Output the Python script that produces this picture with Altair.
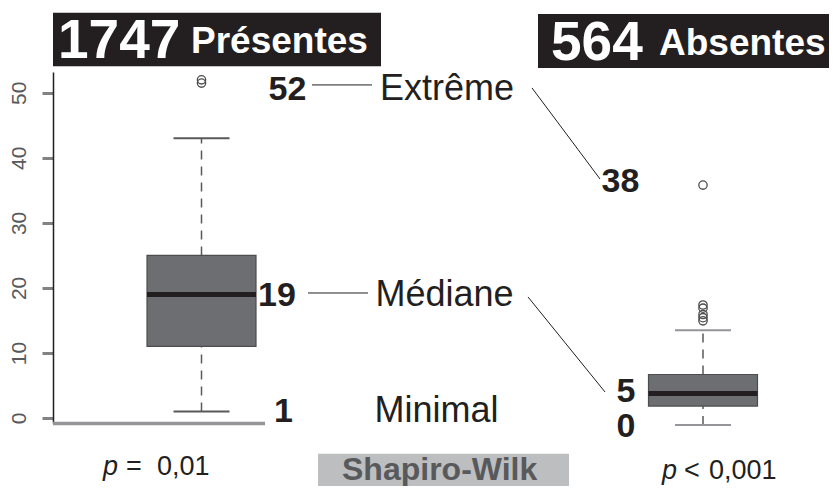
import altair as alt
import pandas as pd

# ---------------- data ----------------
groups = ["Présentes", "Absentes"]
counts = ["1747", "564"]
whisker_low = [1, 0]
q1 = [11, 3]
median = [19, 5]
q3 = [25, 8]
whisker_high = [43, 15]
outliers_presentes = [52, 51.5]
outliers_absentes = [16.5, 17, 17.5, 18.5, 19, 38]
p_symbol = ["p", "p"]
p_relation = ["=", "<"]
p_value = ["0,01", "0,001"]
y_ticks = [0, 10, 20, 30, 40, 50]
summary_words = ["Extrême", "Médiane", "Minimal"]
left_values = ["52", "19", "1"]
right_values = ["38", "5", "0"]
test_name = ["Shapiro-Wilk"]

# ---------------- layout ----------------
FONT = "Liberation Sans"
DARK = "#231f20"
W, H = 776, 351
x_scale = alt.Scale(domain=[53, 829], nice=False, zero=False)
left_scale = alt.Scale(domain=[-0.77, 53.2], nice=False, zero=False)
right_scale = alt.Scale(domain=[0.32, 55.9], nice=False, zero=False)
scales = [left_scale, right_scale]

centers = [201.5, 703]
box_half = 54.5
cap_half = 28

y_axis = alt.Axis(values=y_ticks, labelAngle=270, labelAlign="center", labelBaseline="alphabetic",
                  labelPadding=17, tickSize=11, tickWidth=3, tickColor="#808285",
                  domainColor=DARK, domainWidth=1.5, labelFontSize=21, labelColor="#58595b",
                  labelFont=FONT, grid=False, title=None, labelFlush=False)


def X(f):
    return alt.X(f + ":Q", scale=x_scale, axis=None)


def Y(f, sc=left_scale, axis=None):
    return alt.Y(f + ":Q", scale=sc, axis=axis)


layers = []
cap_colors = ["#58595b", "#939598"]
for i in range(2):
    sc = scales[i]
    row = pd.DataFrame({
        "group": [groups[i]],
        "xc": [centers[i]], "xl": [centers[i] - box_half], "xr": [centers[i] + box_half],
        "cl": [centers[i] - cap_half], "cr": [centers[i] + cap_half],
        "wlo": [whisker_low[i]], "q1": [q1[i]], "med": [median[i]], "q3": [q3[i]],
        "whi": [whisker_high[i]],
    })
    base = alt.Chart(row)
    ax = y_axis if i == 0 else None
    layers.append(base.mark_rule(strokeDash=[9, 7], color="#58595b", strokeWidth=1.5).encode(
        x=X("xc"), y=Y("q3", sc, ax), y2="whi"))
    layers.append(base.mark_rule(strokeDash=[9, 7], color="#58595b", strokeWidth=1.5).encode(
        x=X("xc"), y=Y("wlo", sc), y2="q1"))
    layers.append(base.mark_rect(color="#6d6e71", stroke="#4d4d4f", strokeWidth=1.2).encode(
        x=X("xl"), x2="xr", y=Y("q1", sc), y2="q3"))
    layers.append(base.mark_rule(color=DARK, strokeWidth=5).encode(
        x=X("xl"), x2="xr", y=Y("med", sc)))
    layers.append(base.mark_rule(color=cap_colors[i], strokeWidth=2).encode(
        x=X("cl"), x2="cr", y=Y("whi", sc)))
    layers.append(base.mark_rule(color=cap_colors[i], strokeWidth=2).encode(
        x=X("cl"), x2="cr", y=Y("wlo", sc)))
    outs = outliers_presentes if i == 0 else outliers_absentes
    odf = pd.DataFrame({"xc": [centers[i]] * len(outs), "v": outs})
    layers.append(alt.Chart(odf).mark_point(shape="circle", filled=False, color="#4d4d4f",
                                            strokeWidth=1.3, size=70, opacity=1).encode(
        x=X("xc"), y=Y("v", sc)))

# bottom gray axis line under the left box
axis_line = pd.DataFrame({"x": [53], "x2": [265], "y": [-0.85]})
layers.append(alt.Chart(axis_line).mark_rule(color="#939598", strokeWidth=3.5).encode(
    x=X("x"), x2="x2", y=Y("y")))

# title boxes
title_boxes = pd.DataFrame({"x": [53, 538], "x2": [381, 840], "y": [62.3, 62.1], "y2": [54.1, 53.8]})
layers.append(alt.Chart(title_boxes).mark_rect(color=DARK).encode(
    x=X("x"), x2="x2", y=Y("y"), y2="y2"))
title_counts = pd.DataFrame({"x": [58, 551], "y": [55.36, 55.05], "t": counts})
layers.append(alt.Chart(title_counts).mark_text(align="left", baseline="alphabetic", font=FONT,
                                                fontSize=55, fontWeight="bold", color="white").encode(
    x=X("x"), y=Y("y"), text="t:N"))
title_words = pd.DataFrame({"x": [191, 659], "y": [56.13, 55.82], "t": groups})
layers.append(alt.Chart(title_words).mark_text(align="left", baseline="alphabetic", font=FONT,
                                               fontSize=37, fontWeight="bold", color="white").encode(
    x=X("x"), y=Y("y"), text="t:N"))

# bold numbers
nums = pd.DataFrame({"x": [268.5, 258, 274, 601.5, 616.5, 616.5],
                     "y": [48.9, 17.22, -0.62, 34.75, 2.46, -2.92],
                     "t": left_values + right_values})
layers.append(alt.Chart(nums).mark_text(align="left", baseline="alphabetic", font=FONT,
                                        fontSize=34, fontWeight="bold", color=DARK).encode(
    x=X("x"), y=Y("y"), text="t:N"))

# words
words = pd.DataFrame({"x": [380, 375.5, 374.5], "y": [48.9, 17.22, -0.62], "t": summary_words})
layers.append(alt.Chart(words).mark_text(align="left", baseline="alphabetic", font=FONT,
                                         fontSize=36, color=DARK).encode(
    x=X("x"), y=Y("y"), text="t:N"))

# connector lines
conn = pd.DataFrame({"x": [312, 532, 308, 528], "x2": [372, 600, 368, 605],
                     "y": [51.21, 50.75, 19.22, 18.61], "y2": [51.21, 36.75, 19.22, 4.0]})
layers.append(alt.Chart(conn).mark_rule(color=DARK, strokeWidth=1).encode(
    x=X("x"), x2="x2", y=Y("y"), y2="y2"))

# p-values
p_y = [-8.77, -9.4]
p_sym = pd.DataFrame({"x": [103, 662], "y": p_y, "t": p_symbol})
layers.append(alt.Chart(p_sym).mark_text(align="left", baseline="alphabetic", font=FONT,
                                         fontSize=27, fontStyle="italic", color=DARK).encode(
    x=X("x"), y=Y("y"), text="t:N"))
p_rel = pd.DataFrame({"x": [126, 684], "y": p_y, "t": p_relation})
layers.append(alt.Chart(p_rel).mark_text(align="left", baseline="alphabetic", font=FONT,
                                         fontSize=27, color=DARK).encode(
    x=X("x"), y=Y("y"), text="t:N"))
p_val = pd.DataFrame({"x": [157, 709], "y": p_y, "t": p_value})
layers.append(alt.Chart(p_val).mark_text(align="left", baseline="alphabetic", font=FONT,
                                         fontSize=27, color=DARK).encode(
    x=X("x"), y=Y("y"), text="t:N"))

# Shapiro-Wilk label
sw_box = pd.DataFrame({"x": [318], "x2": [569], "y": [-5.5], "y2": [-13.0]})
layers.append(alt.Chart(sw_box).mark_rect(color="#bcbec0").encode(
    x=X("x"), x2="x2", y=Y("y"), y2="y2"))
sw_text = pd.DataFrame({"x": [342], "y": [-9.5], "t": test_name})
layers.append(alt.Chart(sw_text).mark_text(align="left", baseline="alphabetic", font=FONT,
                                           fontSize=32, fontWeight="bold", color="#58595b").encode(
    x=X("x"), y=Y("y"), text="t:N"))

chart = alt.layer(*layers).resolve_scale(y="independent").properties(
    width=W, height=H,
    autosize=alt.AutoSizeParams(type="none"),
    padding={"left": 45, "top": 64, "right": 0, "bottom": 63},
    background="white",
).configure_view(stroke=None)

chart.save("out.html", embed_options={"renderer": "svg", "actions": False})
